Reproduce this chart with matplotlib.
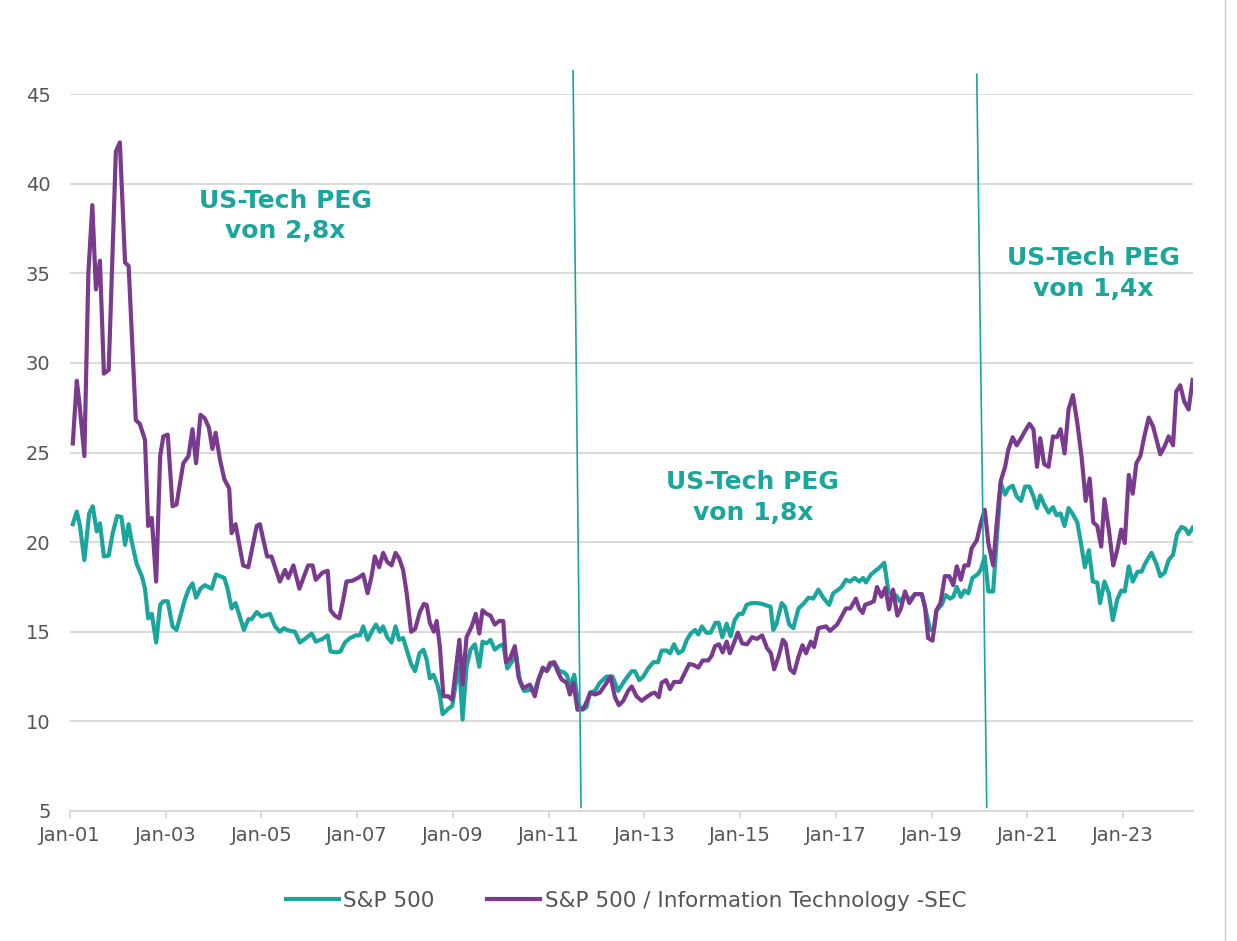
import matplotlib
matplotlib.use("Agg")
import matplotlib.pyplot as plt
from matplotlib.lines import Line2D

plt.rcParams['font.family'] = ['DejaVu Sans']

# === Daten: Monate seit Jan-01 und Werte ===
sp_m = [0.7, 1.7, 2.5, 3.6, 4.8, 5.7, 6.7, 7.5, 8.5, 9.7, 10.7, 11.8, 12.9, 13.8, 14.7, 15.4, 16.7, 18.0, 18.8, 19.6,
        20.5, 21.6, 22.6, 23.4, 24.5, 25.7, 26.7, 28.8, 29.8, 30.7, 31.6, 32.7, 33.8, 35.5, 36.6, 37.6, 38.7, 39.5,
        40.5, 41.5, 42.4, 43.6, 44.7, 45.5, 46.8, 48.0, 50.1, 51.4, 52.6, 53.6, 54.7, 56.4, 57.6, 58.9, 60.6, 61.6,
        63.3, 64.6, 65.3, 66.8, 67.8, 68.9, 70.2, 71.7, 72.7, 73.5, 74.6, 75.6, 76.7, 77.7, 78.5, 79.5, 80.6, 81.6,
        82.5, 83.5, 84.4, 85.5, 86.5, 87.6, 88.6, 89.4, 90.2, 91.1, 92.1, 92.7, 93.4, 94.8, 95.8, 96.7, 97.6, 98.4,
        99.4, 100.4, 101.5, 102.6, 103.4, 104.4, 105.4, 106.5, 107.6, 108.6, 109.6, 110.7, 111.8, 112.8, 113.8,
        115.3, 116.5, 117.7, 118.7, 119.7, 120.5, 121.6, 122.7, 123.7, 124.5, 125.5, 126.4, 127.4, 128.5, 129.5,
        130.3, 131.6, 132.8, 134.5, 136.0, 137.4, 139.1, 140.8, 141.6, 142.7, 143.7, 144.9, 146.2, 147.4, 148.3,
        149.6, 150.4, 151.4, 152.5, 153.6, 154.6, 155.6, 156.7, 157.5, 158.4, 159.5, 160.6, 161.8, 162.6, 163.5,
        164.6, 165.6, 166.6, 167.7, 168.6, 169.6, 170.8, 172.3, 173.5, 174.8, 175.6, 176.3, 177.1, 178.4, 179.2,
        180.3, 181.3, 182.6, 183.8, 185.1, 186.3, 187.6, 188.8, 190.3, 191.3, 192.6, 193.4, 194.5, 195.5, 196.7,
        197.8, 198.8, 199.5, 200.8, 201.9, 203.0, 204.1, 205.2, 206.3, 207.2, 208.0, 209.3, 210.6, 211.8, 213.5,
        214.3, 215.6, 216.5, 217.2, 218.5, 219.5, 220.6, 221.4, 222.3, 223.3, 224.2, 225.2, 226.2, 227.5, 228.3,
        229.3, 230.2, 231.4, 232.3, 233.3, 234.4, 235.2, 236.3, 237.3, 238.4, 239.4, 240.5, 241.5, 242.4, 243.2,
        244.2, 245.3, 246.4, 247.3, 248.3, 249.3, 250.3, 251.4, 252.5, 253.3, 254.4, 255.4, 256.4, 257.5, 258.2,
        259.3, 260.4, 261.4, 262.5, 263.5, 264.4, 265.4, 266.4, 267.6, 268.6, 269.5, 270.4, 271.1, 272.3, 273.3,
        274.4, 275.4, 276.5, 277.5, 278.6, 279.6, 280.4, 281.4]
sp_v = [21.0, 21.7, 20.9, 19.0, 21.6, 22.0, 20.6, 21.05, 19.2, 19.25, 20.5, 21.45, 21.4, 19.85, 21.0, 20.1, 18.8, 18.1,
        17.4, 15.75, 16.0, 14.4, 16.5, 16.7, 16.7, 15.3, 15.1, 16.8, 17.4, 17.7, 16.9, 17.4, 17.6, 17.4, 18.2, 18.1,
        18.0, 17.4, 16.3, 16.6, 15.95, 15.1, 15.7, 15.7, 16.1, 15.85, 16.0, 15.3, 15.0, 15.2, 15.07, 15.0, 14.4, 14.6,
        14.9, 14.45, 14.6, 14.8, 13.9, 13.85, 13.9, 14.4, 14.65, 14.8, 14.8, 15.3, 14.55, 15.0, 15.4, 15.0, 15.3,
        14.7, 14.4, 15.3, 14.55, 14.65, 14.0, 13.2, 12.8, 13.8, 14.0, 13.45, 12.4, 12.6, 12.05, 11.5, 10.4, 10.7,
        10.85, 12.1, 13.05, 10.1, 13.05, 14.0, 14.3, 13.05, 14.45, 14.35, 14.55, 14.0, 14.2, 14.3, 12.95, 13.3, 13.8,
        12.2, 11.7, 11.75, 11.75, 12.5, 12.95, 12.85, 13.15, 13.2, 12.8, 12.75, 12.6, 11.95, 12.6, 10.95, 10.65,
        10.8, 11.6, 11.7, 12.15, 12.5, 12.5, 11.7, 12.3, 12.8, 12.8, 12.3, 12.5, 12.95, 13.3, 13.3, 13.95, 13.95,
        13.8, 14.3, 13.8, 13.95, 14.55, 14.9, 15.1, 14.85, 15.3, 14.95, 14.95, 15.5, 15.5, 14.7, 15.45, 14.75, 15.65,
        16.0, 16.0, 16.5, 16.6, 16.6, 16.55, 16.45, 16.4, 15.1, 15.45, 16.6, 16.4, 15.4, 15.2, 16.3, 16.55, 16.9,
        16.85, 17.35, 16.9, 16.5, 17.15, 17.35, 17.5, 17.9, 17.8, 18.0, 17.8, 18.0, 17.75, 18.2, 18.4, 18.6, 18.85,
        17.2, 17.1, 17.0, 16.7, 17.0, 16.8, 17.1, 17.1, 16.4, 15.1, 15.1, 16.2, 16.5, 17.05, 16.85, 16.95, 17.5,
        16.95, 17.3, 17.15, 18.0, 18.2, 18.45, 19.2, 17.25, 17.25, 20.1, 23.3, 22.65, 23.0, 23.15, 22.55, 22.3,
        23.1, 23.1, 22.55, 21.9, 22.6, 22.1, 21.65, 21.95, 21.5, 21.6, 20.9, 21.9, 21.55, 21.1, 20.1, 18.6, 19.55,
        17.8, 17.75, 16.6, 17.8, 17.15, 15.65, 16.8, 17.3, 17.25, 18.65, 17.8, 18.35, 18.35, 18.8, 19.15, 19.4,
        18.8, 18.1, 18.3, 19.0, 19.3, 20.45, 20.85, 20.75, 20.45, 20.8]

it_m = [0.7, 1.7, 2.3, 3.6, 4.6, 5.6, 6.5, 7.5, 8.5, 9.7, 11.5, 12.5, 13.8, 14.7, 16.5, 17.5, 18.8, 19.6, 20.5, 21.6,
        22.6, 23.4, 24.5, 25.7, 26.7, 28.4, 29.7, 30.7, 31.6, 32.7, 33.8, 34.8, 35.7, 36.5, 37.6, 38.7, 39.9, 40.5,
        41.5, 43.4, 44.7, 46.8, 47.6, 49.4, 50.5, 52.6, 53.9, 54.7, 56.0, 57.5, 58.5, 59.7, 60.8, 61.6, 63.3, 64.6,
        65.3, 66.4, 67.5, 68.5, 69.3, 70.8, 72.2, 73.5, 74.6, 75.6, 76.4, 77.5, 78.5, 79.5, 80.6, 81.6, 82.5, 83.5,
        84.4, 85.5, 86.5, 87.7, 88.7, 89.4, 90.2, 91.2, 91.9, 92.7, 93.6, 94.8, 95.8, 96.7, 97.6, 98.4, 99.4, 100.7,
        101.7, 102.6, 103.4, 104.4, 105.4, 106.5, 107.6, 108.6, 109.3, 110.3, 111.5, 112.4, 113.6, 115.3, 116.5,
        117.4, 118.5, 119.5, 120.3, 121.4, 122.2, 123.2, 124.5, 125.3, 126.2, 127.2, 128.7, 129.5, 130.5, 131.6,
        132.8, 134.5, 135.5, 136.6, 137.6, 138.7, 139.9, 140.8, 142.0, 143.3, 144.5, 145.8, 146.6, 147.6, 148.3,
        149.4, 150.4, 151.4, 153.0, 154.1, 155.2, 156.3, 157.5, 158.6, 160.0, 160.8, 161.7, 162.7, 163.6, 164.6,
        165.4, 166.4, 167.4, 168.5, 169.7, 171.0, 172.2, 173.5, 174.7, 175.7, 176.5, 177.6, 178.7, 179.4, 180.5,
        181.5, 182.6, 183.6, 184.5, 185.7, 186.5, 187.6, 189.5, 190.5, 192.3, 193.4, 194.5, 195.6, 197.0, 197.8,
        198.7, 199.3, 200.5, 201.5, 202.3, 203.4, 204.4, 205.3, 206.3, 207.4, 208.3, 209.3, 210.4, 211.8, 213.5,
        214.3, 215.1, 216.2, 217.2, 218.2, 219.3, 220.4, 221.4, 222.3, 223.3, 224.2, 225.2, 226.0, 227.3, 228.3,
        229.3, 230.2, 231.4, 232.3, 233.3, 234.4, 235.2, 236.3, 237.3, 238.4, 239.4, 240.5, 241.5, 242.4, 243.2,
        244.2, 245.3, 246.4, 247.4, 248.3, 249.3, 250.3, 251.4, 252.5, 253.6, 254.6, 255.6, 256.5, 257.5, 258.5,
        259.3, 260.4, 261.5, 262.5, 263.5, 264.4, 265.4, 266.4, 267.3, 268.3, 269.3, 270.4, 271.5, 272.3, 273.3,
        274.4, 275.4, 276.5, 277.3, 278.3, 279.3, 280.4, 281.4]
it_v = [25.5, 29.0, 27.9, 24.8, 35.0, 38.8, 34.1, 35.7, 29.4, 29.6, 41.8, 42.3, 35.6, 35.4, 26.8, 26.6, 25.7, 20.9,
        21.35, 17.8, 24.8, 25.9, 26.0, 22.0, 22.1, 24.4, 24.8, 26.3, 24.4, 27.1, 26.9, 26.4, 25.2, 26.1, 24.6, 23.5,
        23.0, 20.5, 21.0, 18.7, 18.6, 20.9, 21.0, 19.2, 19.2, 17.8, 18.45, 18.0, 18.7, 17.4, 18.0, 18.7, 18.7, 17.9,
        18.3, 18.4, 16.2, 15.9, 15.75, 16.8, 17.8, 17.85, 18.0, 18.2, 17.15, 18.1, 19.2, 18.6, 19.4, 18.9, 18.7,
        19.4, 19.1, 18.45, 17.15, 15.0, 15.15, 16.1, 16.55, 16.5, 15.5, 15.0, 15.6, 14.2, 11.4, 11.4, 11.2, 12.9,
        14.55, 12.05, 14.7, 15.3, 16.0, 14.9, 16.2, 16.0, 15.9, 15.4, 15.6, 15.6, 13.3, 13.5, 14.2, 12.5, 11.85,
        12.05, 11.4, 12.3, 13.0, 12.8, 13.25, 13.3, 12.8, 12.35, 12.15, 11.5, 12.15, 10.65, 10.7, 11.1, 11.6, 11.5,
        11.6, 12.15, 12.5, 11.35, 10.9, 11.15, 11.7, 11.95, 11.4, 11.15, 11.35, 11.55, 11.6, 11.35, 12.15, 12.3,
        11.8, 12.2, 12.2, 12.7, 13.2, 13.15, 13.0, 13.4, 13.4, 13.65, 14.2, 14.3, 13.85, 14.45, 13.8, 14.35, 14.95,
        14.35, 14.3, 14.7, 14.6, 14.8, 14.1, 13.8, 12.9, 13.6, 14.55, 14.35, 12.9, 12.7, 13.6, 14.25, 13.8, 14.45,
        14.15, 15.2, 15.3, 15.05, 15.4, 15.85, 16.3, 16.3, 16.85, 16.3, 16.05, 16.5, 16.6, 16.7, 17.5, 16.95, 17.45,
        16.25, 17.35, 15.9, 16.3, 17.25, 16.6, 17.1, 17.1, 16.4, 14.65, 14.5, 16.2, 16.6, 18.1, 18.1, 17.6, 18.65,
        17.9, 18.7, 18.7, 19.65, 20.1, 21.05, 21.8, 19.95, 18.7, 21.05, 23.4, 24.2, 25.15, 25.85, 25.4, 25.8, 26.2,
        26.6, 26.3, 24.2, 25.8, 24.35, 24.2, 25.9, 25.85, 26.3, 24.95, 27.4, 28.2, 26.65, 24.7, 22.3, 23.55, 21.1,
        20.9, 19.75, 22.4, 20.7, 18.7, 19.55, 20.7, 19.95, 23.75, 22.7, 24.4, 24.8, 25.9, 26.95, 26.45, 25.75, 24.9,
        25.35, 25.9, 25.4, 28.4, 28.75, 27.85, 27.4, 29.05]

tick_pos = list(range(0, 265, 24))
tick_lab = ["Jan-01", "Jan-03", "Jan-05", "Jan-07", "Jan-09", "Jan-11",
            "Jan-13", "Jan-15", "Jan-17", "Jan-19", "Jan-21", "Jan-23"]
y_ticks = [5, 10, 15, 20, 25, 30, 35, 40, 45]

notes = ["US-Tech PEG\nvon 2,8x", "US-Tech PEG\nvon 1,8x", "US-Tech PEG\nvon 1,4x"]

teal = "#1aa59d"
purple = "#7a3a8e"
grey_txt = "#555555"
grid_c = "#d9d9d9"

fig = plt.figure(figsize=(12.37, 9.41), dpi=100)
ax = fig.add_axes([70 / 1237, 1 - 811 / 941, (1193 - 70) / 1237, (811 - 94) / 941])

ax.plot(sp_m, sp_v, color=teal, lw=3, solid_joinstyle="round", label="S&P 500")
ax.plot(it_m, it_v, color=purple, lw=3, solid_joinstyle="round",
        label="S&P 500 / Information Technology -SEC")

ax.set_xlim(0, 281.5)
ax.set_ylim(5, 45)
ax.set_yticks(y_ticks)
ax.set_xticks(tick_pos)
ax.set_xticklabels(tick_lab)
ax.grid(axis="y", color=grid_c, lw=1.4)
ax.set_axisbelow(True)
for s in ["top", "right", "left"]:
    ax.spines[s].set_visible(False)
ax.spines["bottom"].set_color(grid_c)
ax.spines["bottom"].set_linewidth(1.4)
ax.tick_params(axis="y", length=0, pad=14, labelsize=14, labelcolor=grey_txt)
ax.tick_params(axis="x", length=5, width=1.4, color=grid_c, pad=6, labelsize=14, labelcolor=grey_txt)

# Trennlinien (leicht schräg)
ax.plot([126.1, 128.1], [46.3, 5.2], color=teal, lw=1.2, clip_on=False)
ax.plot([227.3, 229.8], [46.1, 5.2], color=teal, lw=1.2, clip_on=False)

# Texte
note_kw = dict(color=teal, fontsize=18, fontweight="bold", ha="center", va="center", linespacing=1.35)
ax.text(53.9, 38.2, notes[0], **note_kw)
ax.text(171.2, 22.5, notes[1], **note_kw)
ax.text(256.6, 35.0, notes[2], **note_kw)

ax.legend(loc="center", bbox_to_anchor=(0.495, -0.1255), ncol=2, frameon=False,
          fontsize=15.5, labelcolor=grey_txt, handlelength=2.46, handletextpad=0.2, columnspacing=2.46)

fig.add_artist(Line2D([1225 / 1237, 1225 / 1237], [0, 1], color="#cccccc", lw=1))

fig.savefig("out.png", dpi=100)
